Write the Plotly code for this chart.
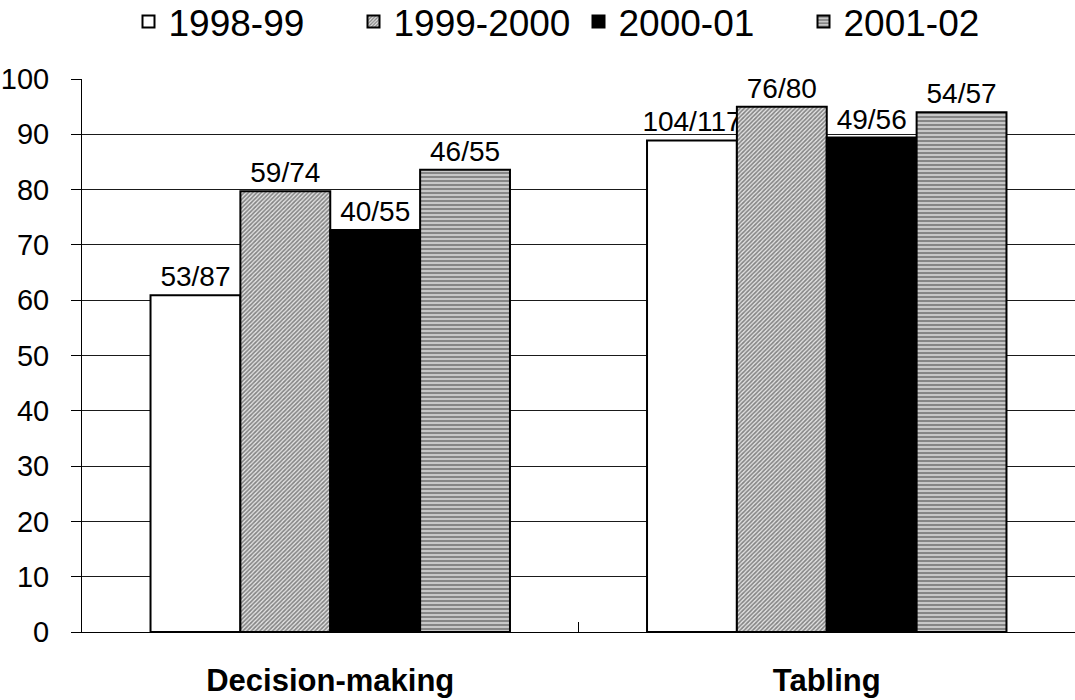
import plotly.graph_objects as go

# Success rates (%) by task type and year, with the counts shown above each bar
categories = ["Decision-making", "Tabling"]
years = ["1998-99", "1999-2000", "2000-01", "2001-02"]

rate_1998 = [60.9, 88.9]
rate_1999 = [79.7, 95.0]
rate_2000 = [72.7, 89.4]
rate_2001 = [83.6, 94.0]

label_1998 = ["53/87", "104/117"]
label_1999 = ["59/74", "76/80"]
label_2000 = ["40/55", "49/56"]
label_2001 = ["46/55", "54/57"]

y_ticks = list(range(0, 101, 10))

FONT = "Liberation Sans, Arial, sans-serif"

series = [
    (years[0], rate_1998, label_1998, dict(color="white")),
    (years[1], rate_1999, label_1999,
     dict(color="white", pattern=dict(shape="/", size=3, solidity=0.55,
                                      fgcolor="#222", bgcolor="#e6e6e6"))),
    (years[2], rate_2000, label_2000, dict(color="black")),
    (years[3], rate_2001, label_2001,
     dict(color="white", pattern=dict(shape="-", size=4, solidity=0.5,
                                      fgcolor="#444", bgcolor="#c8c8c8"))),
]

fig = go.Figure()
for name, vals, labels, marker in series:
    marker = dict(marker)
    marker["line"] = dict(color="black", width=2)
    fig.add_trace(go.Bar(
        name=name,
        x=categories,
        y=vals,
        text=labels,
        textposition="outside",
        textfont=dict(family=FONT, size=28, color="black"),
        constraintext="none",
        cliponaxis=False,
        marker=marker,
    ))

fig.update_layout(
    width=1075,
    height=700,
    margin=dict(l=82, r=0, t=79, b=68, autoexpand=False),
    paper_bgcolor="white",
    plot_bgcolor="white",
    barmode="group",
    bargap=0.276,
    bargroupgap=0,
    font=dict(family=FONT, color="black"),
    showlegend=True,
    legend=dict(
        orientation="h",
        x=0.5, xanchor="center",
        y=1.103, yanchor="middle",
        font=dict(family=FONT, size=37, color="black"),
        bgcolor="rgba(0,0,0,0)",
        traceorder="normal",
        entrywidth=180,
        entrywidthmode="pixels",
    ),
)

fig.update_xaxes(
    showline=True, linecolor="black", linewidth=1,
    ticks="inside", tickson="boundaries", ticklen=10, tickcolor="black",
    tickfont=dict(family=FONT, size=31, color="black", weight="bold"),
    ticklabelstandoff=21,
    showgrid=False,
)

fig.update_yaxes(
    range=[0, 100],
    tickvals=y_ticks,
    showline=True, linecolor="black", linewidth=1,
    ticks="outside", ticklen=10, tickcolor="black",
    tickfont=dict(family=FONT, size=29, color="black"),
    ticklabelstandoff=16,
    showgrid=True, gridcolor="#1a1a1a", gridwidth=1,
    zeroline=False,
)

fig.write_html("out.html")
